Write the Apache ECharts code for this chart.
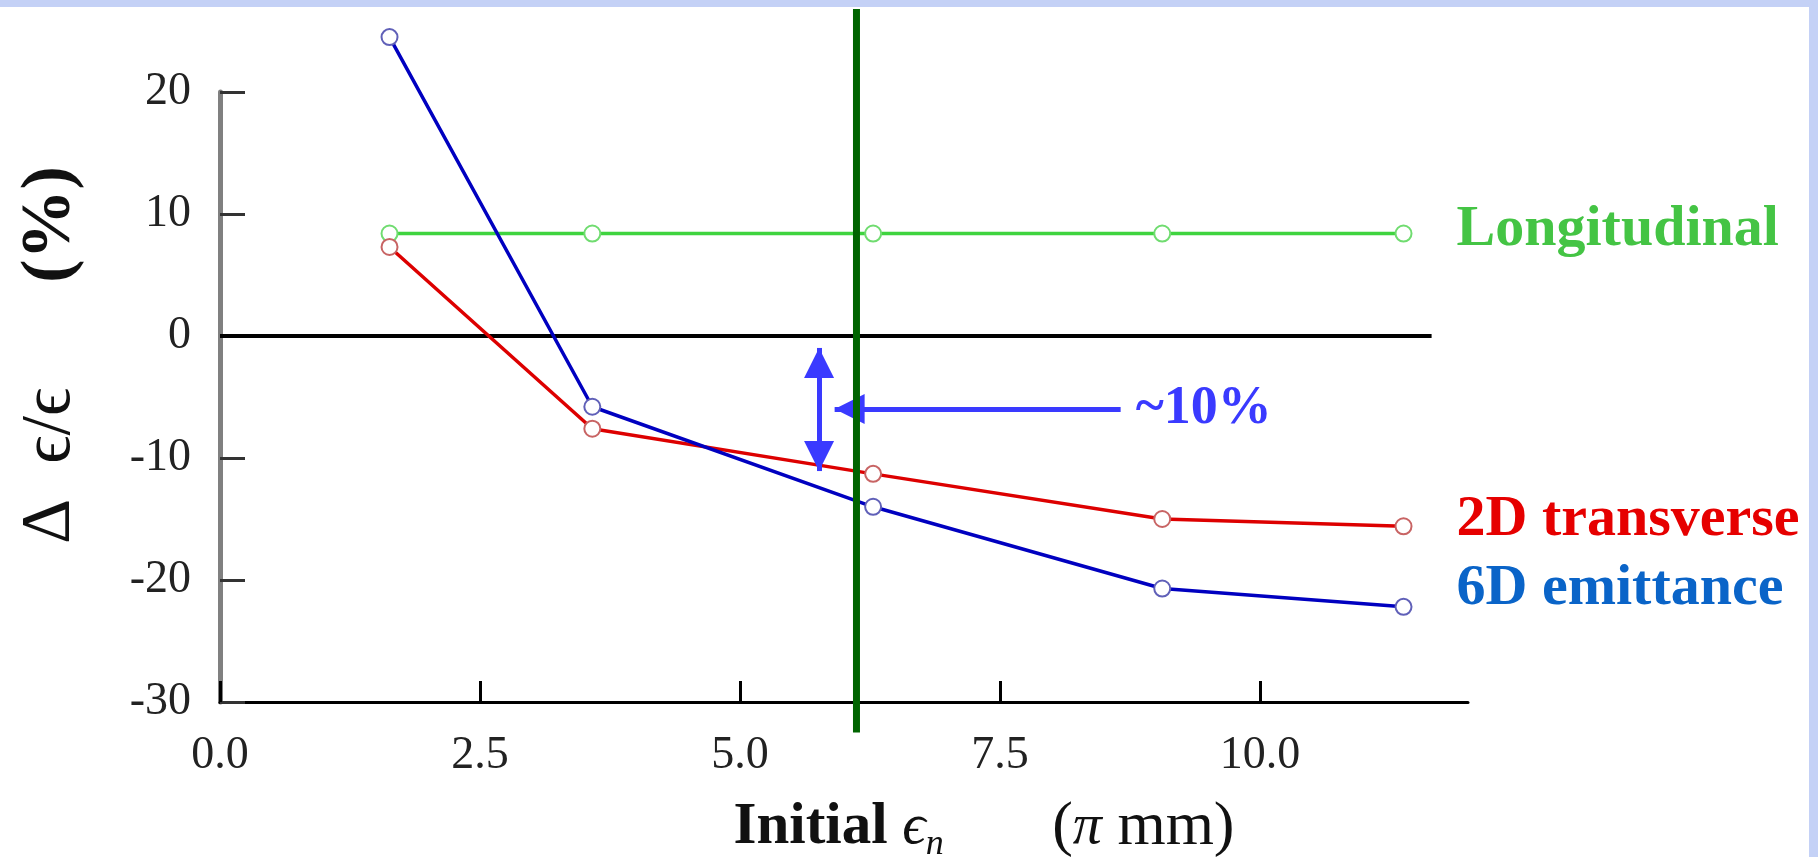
<!DOCTYPE html>
<html>
<head>
<meta charset="utf-8">
<title>Emittance change vs initial emittance</title>
<script src="https://cdn.jsdelivr.net/npm/echarts@6/dist/echarts.min.js"></script>
<style>
  html, body { margin: 0; padding: 0; background: #fff; }
  #chart { width: 1818px; height: 857px; }
</style>
</head>
<body>
<div id="chart"></div>
<script>
// initial normalised emittance (pi mm)
const xValues = [1.63, 3.58, 6.28, 9.06, 11.38]
// relative emittance change (%)
const longitudinal = [8.4, 8.4, 8.4, 8.4, 8.4]
const transverse2D = [7.3, -7.6, -11.3, -15.0, -15.6]
const emittance6D = [24.5, -5.8, -14.0, -20.7, -22.2]
const xTicks = [0, 2.5, 5, 7.5, 10]

// annotations, in data units
const cutX = 6.12
const cutSpan = [-32.5, 26.8]
const zeroSpan = [0, 11.65]
const gapArrow = [5.76, -0.98, -11.07] // x, from y, to y
const pointerArrow = [-5.98, 8.66, 5.91] // y, from x, to x

const serif = "'Liberation Serif', 'DejaVu Serif', serif"
const arrowBlue = '#3a3aff'
const frameBlue = '#c4d1f6'

const zip = (xs, ys) => xs.map((x, i) => [x, ys[i]])

function dataSeries(name, ys, lineColor, markColor, labelColor, labelDy) {
  return {
    name: name,
    type: 'line',
    data: zip(xValues, ys),
    clip: false,
    symbol: 'emptyCircle',
    symbolSize: 16,
    lineStyle: { color: lineColor, width: 3.5 },
    itemStyle: { color: markColor, borderWidth: 2 },
    endLabel: {
      show: true,
      formatter: '{a}',
      distance: 53,
      offset: [0, labelDy],
      color: labelColor,
      fontFamily: serif,
      fontWeight: 'bold',
      fontSize: 58
    },
    z: 3
  }
}

const chart = echarts.init(document.getElementById('chart'))

chart.setOption({
  animation: false,
  backgroundColor: '#ffffff',
  grid: {
    left: 220,
    top: 92,
    right: 350,
    bottom: 155,
    outerBoundsMode: 'none'
  },
  graphic: [
    { type: 'rect', left: 0, top: 0, shape: { width: 1818, height: 7 }, style: { fill: frameBlue }, silent: true },
    { type: 'rect', right: 0, top: 0, shape: { width: 9, height: 857 }, style: { fill: frameBlue }, silent: true }
  ],
  xAxis: {
    type: 'value',
    min: 0,
    max: 12,
    name: '{b|Initial }{m|ϵ}{s|n}{r|       (}{m|π}{r| mm)}',
    nameLocation: 'middle',
    nameGap: 91,
    nameTextStyle: {
      padding: [0, 0, 0, 280],
      fontFamily: serif,
      color: '#111',
      rich: {
        b: { fontFamily: serif, fontSize: 59, fontWeight: 'bold', lineHeight: 70, color: '#111' },
        m: { fontFamily: serif, fontSize: 58, fontStyle: 'italic', lineHeight: 70, color: '#111' },
        s: { fontFamily: serif, fontSize: 36, fontStyle: 'italic', lineHeight: 36, verticalAlign: 'bottom', color: '#111' },
        r: { fontFamily: serif, fontSize: 62, lineHeight: 70, color: '#111' }
      }
    },
    axisLine: { onZero: false, lineStyle: { color: '#000', width: 3 } },
    axisTick: { inside: true, length: 21, customValues: xTicks, lineStyle: { color: '#000', width: 3 } },
    axisLabel: {
      customValues: xTicks,
      margin: 31,
      formatter: v => v.toFixed(1),
      fontFamily: serif,
      fontSize: 46,
      color: '#222'
    },
    splitLine: { show: false }
  },
  yAxis: {
    type: 'value',
    min: -30,
    max: 20,
    interval: 10,
    name: '{r|Δ  ϵ/ϵ      }{b|(%)}',
    nameLocation: 'middle',
    nameGap: 134,
    nameTextStyle: {
      padding: [0, 0, 0, 84],
      fontFamily: serif,
      rich: {
        r: { fontFamily: serif, fontSize: 70, color: '#111' },
        b: { fontFamily: serif, fontSize: 70, fontWeight: 'bold', color: '#111' }
      }
    },
    axisLine: { onZero: false, lineStyle: { color: '#808080', width: 5 } },
    axisTick: { inside: true, length: 25, lineStyle: { color: '#333', width: 3 } },
    axisLabel: {
      margin: 29,
      fontFamily: serif,
      fontSize: 46,
      color: '#222'
    },
    splitLine: { show: false }
  },
  series: [
    {
      name: 'zero',
      type: 'line',
      data: zeroSpan.map(x => [x, 0]),
      symbol: 'none',
      silent: true,
      lineStyle: { color: '#000', width: 4 },
      z: 1
    },
    dataSeries('Longitudinal', longitudinal, '#3fd43f', '#70dc70', '#44c444', -4),
    dataSeries('2D transverse', transverse2D, '#dd0000', '#c86464', '#e60000', -6),
    dataSeries('6D emittance', emittance6D, '#0000c0', '#6060b8', '#0a64c8', -18),
    {
      name: 'cut',
      type: 'line',
      data: cutSpan.map(y => [cutX, y]),
      clip: false,
      symbol: 'none',
      silent: true,
      lineStyle: { color: '#006400', width: 7 },
      z: 5,
      markLine: {
        silent: true,
        symbol: 'triangle',
        symbolSize: [30, 30],
        symbolOffset: [[0, 15], [0, 15]],
        lineStyle: { color: arrowBlue, width: 5, type: 'solid' },
        itemStyle: { color: arrowBlue },
        label: { show: false },
        data: [
          [
            { coord: [gapArrow[0], gapArrow[1]], symbol: 'triangle' },
            { coord: [gapArrow[0], gapArrow[2]], symbol: 'triangle' }
          ],
          [
            {
              coord: [pointerArrow[1], pointerArrow[0]],
              symbol: 'none',
              label: {
                show: true,
                position: 'start',
                distance: 15,
                formatter: '~10%',
                color: arrowBlue,
                fontFamily: serif,
                fontWeight: 'bold',
                fontSize: 54
              }
            },
            { coord: [pointerArrow[2], pointerArrow[0]], symbol: 'triangle' }
          ]
        ]
      }
    }
  ]
})
</script>
</body>
</html>
